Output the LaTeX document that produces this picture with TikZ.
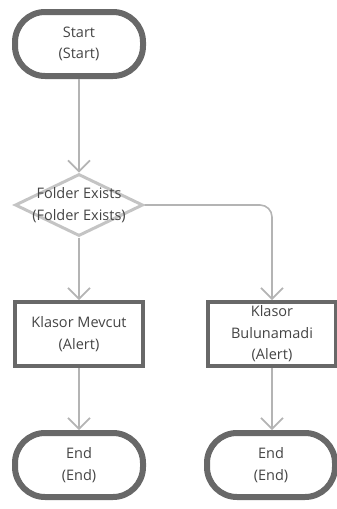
\documentclass[tikz,border=0pt]{standalone}
\usepackage{fontspec}
\setmainfont{Open Sans}
\usetikzlibrary{shapes.geometric, arrows.meta}

\definecolor{bordeoscuro}{HTML}{686868}
\definecolor{bordeclaro}{HTML}{C4C4C4}
\definecolor{flecha}{HTML}{B4B4B4}
\definecolor{texto}{HTML}{444444}

\begin{document}
\begin{tikzpicture}[x=1pt, y=-1pt,
	txt/.style={text=texto, align=center, font=\fontsize{14.5}{21.5}\selectfont},
	terminal/.style={txt, draw=bordeoscuro, line width=6pt, rounded corners=30pt,
		minimum width=128pt, minimum height=64pt, inner sep=0pt},
	alerta/.style={txt, draw=bordeoscuro, line width=4pt,
		minimum width=128pt, minimum height=64pt, inner sep=0pt},
	decision/.style={diamond, draw=bordeclaro, line width=3pt,
		minimum width=128pt, minimum height=62pt, inner sep=0pt},
	conn/.style={draw=flecha, line width=1.6pt, rounded corners=12pt,
		-{Straight Barb[length=11pt, width=22pt, line width=1.6pt]}}]

\useasboundingbox (0,0) rectangle (337,509);

% Nodos
\node[terminal] (inicio) at (79,44) {Start\\(Start)};
\node[decision, label={[txt]center:Folder Exists\\(Folder Exists)}] (carpeta) at (79,205) {};
\node[alerta] (mevcut) at (79,334) {Klasor Mevcut\\(Alert)};
\node[alerta] (noexiste) at (272,334) {Klasor\\Bulunamadi\\(Alert)};
\node[terminal] (fin1) at (79,465) {End\\(End)};
\node[terminal] (fin2) at (271,465) {End\\(End)};

% Conectores
\draw[conn] (inicio) -- (carpeta);
\draw[conn] (carpeta) -- (mevcut);
\draw[conn] (carpeta.east) -| (noexiste.north);
\draw[conn] (mevcut) -- (fin1);
\draw[conn] (noexiste.south) -- (noexiste.south |- fin2.north);

\end{tikzpicture}
\end{document}
